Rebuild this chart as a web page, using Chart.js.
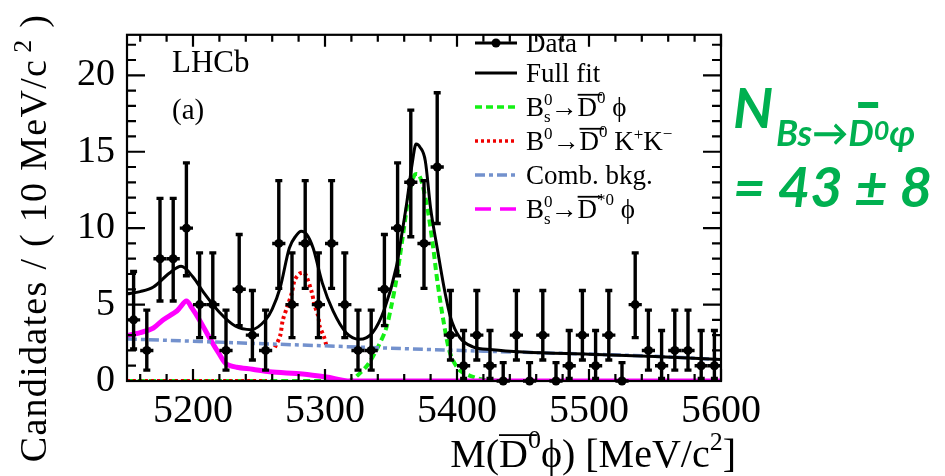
<!DOCTYPE html>
<html>
<head>
<meta charset="utf-8">
<script src="https://cdn.jsdelivr.net/npm/chart.js@4"></script>
<style>
  html, body { margin: 0; padding: 0; background: #fff; }
  #wrap { width: 945px; height: 476px; }
</style>
</head>
<body>
<div id="wrap"><canvas id="myChart" width="945" height="476"></canvas></div>
<script>
'use strict'
// data: bin centres (10 MeV bins) and candidate counts
const binCenters = [5155, 5165, 5175, 5185, 5195, 5205, 5215, 5225, 5235, 5245,
  5255, 5265, 5275, 5285, 5295, 5305, 5315, 5325, 5335, 5345,
  5355, 5365, 5375, 5385, 5395, 5405, 5415, 5425, 5435, 5445,
  5455, 5465, 5475, 5485, 5495, 5505, 5515, 5525, 5535, 5545,
  5555, 5565, 5575, 5585, 5595]
const counts = [4, 2, 8, 8, 10, 5, 5, 2, 6, 3,
  2, 9, 5, 9, 5, 9, 5, 2, 2, 6,
  10, 13, 9, 14, 3, 1, 3, 1, 0, 3,
  0, 3, 0, 1, 3, 1, 3, 0, 5, 2,
  1, 2, 2, 1, 1]
const binHalfWidth = 5

// asymmetric (Poisson) error bars, looked up by count
const errCounts = [0, 1, 2, 3, 4, 5, 6, 8, 9, 10, 13, 14]
const errDown = [0, 0.83, 1.29, 1.63, 1.91, 2.16, 2.38, 2.77, 2.94, 3.11, 3.56, 3.7]
const errUp = [1.2, 2.3, 2.64, 2.92, 3.16, 3.38, 3.58, 3.95, 4.11, 4.27, 4.72, 4.86]

// fit curves
const fitX = [5150, 5160, 5170, 5182, 5191, 5200, 5208, 5220, 5232, 5244, 5255, 5260, 5266, 5273, 5278, 5282, 5286, 5291, 5298, 5306, 5316, 5326, 5336, 5345, 5354, 5358, 5362, 5366, 5369, 5372, 5376, 5380, 5385, 5390, 5395, 5402, 5412, 5427, 5450, 5500, 5550, 5600]
const fitY = [5.7, 5.85, 6.15, 7.05, 7.5, 6.8, 5.8, 4.5, 3.6, 3.36, 4.0, 4.7, 6.1, 8.7, 9.5, 9.8, 9.6, 8.7, 6.4, 4.6, 3.16, 2.73, 3.16, 4.7, 7.45, 9.5, 11.7, 14.2, 15.5, 15.3, 14.4, 11.3, 8.7, 6.2, 4.2, 2.85, 2.24, 2.05, 1.9, 1.75, 1.6, 1.4]

const sigX = [5150, 5318, 5325, 5333, 5340, 5346, 5350, 5354, 5359, 5364, 5368, 5371, 5374, 5378, 5382, 5385, 5390, 5395, 5402, 5412, 5422, 5440, 5600]
const sigY = [0, 0, 0.4, 1.13, 2.2, 3.36, 4.8, 6.6, 9.5, 12.4, 13.5, 13.5, 12.8, 11.1, 8.7, 6.6, 3.8, 1.75, 0.7, 0.27, 0.05, 0, 0]

const kkX = [5150, 5256, null, 5262, 5266, 5268, 5272, 5275, 5277, 5281, 5284, 5286, 5290, 5292, 5295, 5296, 5299, 5301, null, 5308, 5600]
const kkY = [0, 0, null, 2.2, 2.95, 3.97, 5.0, 5.8, 6.6, 7.04, 7.08, 6.84, 5.8, 5.0, 4.2, 3.57, 2.95, 2.34, null, 0, 0]

const combX = [5150, 5260, 5390, 5450, 5540, 5600]
const combY = [2.75, 2.42, 2.03, 1.88, 1.65, 1.4]

const dstX = [5150, 5160, 5170, 5177, 5188, 5195, 5199, 5205, 5213, 5220, 5225, 5233, 5245, 5258, 5283, 5301, 5319, 5600]
const dstY = [2.97, 3.16, 3.47, 3.98, 4.6, 5.24, 4.8, 3.98, 2.75, 1.75, 1.13, 0.9, 0.77, 0.6, 0.46, 0.26, 0, 0]

// axes
const xTickValues = [5200, 5300, 5400, 5500, 5600]
const yTickValues = [0, 5, 10, 15, 20]
const xRange = [5150, 5600]
const yRange = [0, 22.65]

const serif = "'Liberation Serif', 'DejaVu Serif', serif"
const green = 'rgb(0, 176, 80)'

function toXY(xs, ys) {
  return xs.map((x, i) => (x === null ? { x: NaN, y: null } : { x: x, y: ys[i] }))
}

function lookupErr(n, table) {
  return table[errCounts.indexOf(n)]
}

// draws a list of text pieces one after the other; returns the width
function rich(ctx, x, y, parts, draw) {
  let cx = x
  for (const p of parts) {
    ctx.font = (p.style || '') + ' ' + p.size + 'px ' + (p.family || serif)
    const w = ctx.measureText(p.t).width
    if (draw) {
      ctx.fillText(p.t, cx + (p.dx || 0), y + (p.dy || 0))
      if (p.over) {
        ctx.fillRect(cx + (p.dx || 0), y - p.size * 0.82, w + p.over, 1.8)
      }
      if (p.bar) {
        ctx.fillRect(cx + p.bar[0], y + p.bar[1], p.bar[2], p.bar[3])
      }
    }
    if (!p.stay) cx += w + (p.dx || 0)
  }
  return cx - x
}

const lg = 27
const lgSmall = 17
function decay(sup, tail) {
  const base = [{ t: 'B', size: lg }]
  if (sup === 's') {
    base.push({ t: '0', size: lgSmall, dy: -11, stay: true })
    base.push({ t: 's', size: lgSmall, dy: 6 })
  } else {
    base.push({ t: '0', size: lgSmall, dy: -11 })
  }
  base.push({ t: '\u2192', size: lg })
  base.push({ t: 'D', size: lg, over: 5 })
  return base.concat(tail)
}

const legendItems = [
  { kind: 'data', parts: [{ t: 'Data', size: lg }] },
  { kind: 'fit', parts: [{ t: 'Full fit', size: lg }] },
  { kind: 'sig', parts: decay('s', [{ t: '0', size: lgSmall, dy: -13 }, { t: ' \u03d5', size: lg }]) },
  { kind: 'kk', parts: decay('0', [{ t: '0', size: lgSmall, dy: -13 }, { t: ' K', size: lg }, { t: '+', size: lgSmall, dy: -10 }, { t: 'K', size: lg }, { t: '\u2212', size: lgSmall, dy: -11 }]) },
  { kind: 'comb', parts: [{ t: 'Comb. bkg.', size: lg }] },
  { kind: 'dst', parts: decay('s', [{ t: '*0', size: lgSmall, dy: -13 }, { t: ' \u03d5', size: lg }]) }
]

const lineStyles = {
  fit: { color: '#000', width: 3, dash: [] },
  sig: { color: 'rgb(20, 240, 20)', width: 4, dash: [7, 4] },
  kk: { color: 'rgb(240, 0, 0)', width: 4, dash: [3, 3] },
  comb: { color: 'rgb(115, 145, 205)', width: 3.5, dash: [10, 4, 4, 4] },
  dst: { color: 'rgb(255, 0, 255)', width: 5, dash: [] }
}

const lhcbPlugin = {
  id: 'lhcbPlugin',
  beforeDatasetDraw(chart, args) {
    if (args.index !== 0) return
    const ctx = chart.ctx
    const xs = chart.scales.x
    const ys = chart.scales.y
    ctx.save()
    ctx.strokeStyle = '#000'
    ctx.lineWidth = 3.4
    binCenters.forEach((c, i) => {
      const n = counts[i]
      const px = xs.getPixelForValue(c)
      const py = ys.getPixelForValue(n)
      const lo = ys.getPixelForValue(n - lookupErr(n, errDown))
      const hi = ys.getPixelForValue(n + lookupErr(n, errUp))
      ctx.beginPath()
      ctx.moveTo(px, lo)
      ctx.lineTo(px, hi)
      ctx.moveTo(xs.getPixelForValue(c - binHalfWidth), py)
      ctx.lineTo(xs.getPixelForValue(c + binHalfWidth), py)
      ctx.moveTo(px - 3.5, hi)
      ctx.lineTo(px + 3.5, hi)
      if (n > 0) {
        ctx.moveTo(px - 3.5, lo)
        ctx.lineTo(px + 3.5, lo)
      }
      ctx.stroke()
    })
    ctx.restore()
  },
  afterDatasetsDraw(chart) {
    const ctx = chart.ctx
    const a = chart.chartArea
    const xs = chart.scales.x
    const ys = chart.scales.y
    ctx.save()
    ctx.strokeStyle = '#000'
    ctx.lineWidth = 2.2
    ctx.strokeRect(a.left, a.top, a.right - a.left, a.bottom - a.top)
    ctx.beginPath()
    for (let v = xRange[0] + 10; v <= xRange[1]; v += 20) {
      const px = xs.getPixelForValue(v)
      const len = v % 100 === 0 ? 12 : 7
      ctx.moveTo(px, a.bottom)
      ctx.lineTo(px, a.bottom - len)
      ctx.moveTo(px, a.top)
      ctx.lineTo(px, a.top + len)
    }
    for (let v = 1; v <= yRange[1]; v += 1) {
      const py = ys.getPixelForValue(v)
      const len = v % 5 === 0 ? 18 : 9
      ctx.moveTo(a.left, py)
      ctx.lineTo(a.left + len, py)
      ctx.moveTo(a.right, py)
      ctx.lineTo(a.right - len, py)
    }
    ctx.stroke()
    ctx.restore()
  },
  afterDraw(chart) {
    const ctx = chart.ctx
    ctx.save()
    ctx.fillStyle = '#000'
    ctx.textBaseline = 'alphabetic'

    // LHCb label
    rich(ctx, 172, 72, [{ t: 'LHCb', size: 31 }], true)
    rich(ctx, 172, 119, [{ t: '(a)', size: 29 }], true)

    // legend
    const lx0 = 475
    const lx1 = 517
    const rowY = [43, 73, 107, 141, 175, 209]
    legendItems.forEach((item, i) => {
      const y = rowY[i]
      ctx.save()
      if (item.kind === 'data') {
        ctx.strokeStyle = '#000'
        ctx.lineWidth = 3
        ctx.beginPath()
        ctx.moveTo(lx0, y)
        ctx.lineTo(lx1, y)
        ctx.stroke()
        ctx.beginPath()
        ctx.arc((lx0 + lx1) / 2, y, 4.5, 0, Math.PI * 2)
        ctx.fill()
      } else {
        const st = lineStyles[item.kind]
        ctx.strokeStyle = st.color
        ctx.lineWidth = item.kind === 'dst' ? 3.5 : Math.min(st.width, 3.5)
        ctx.setLineDash(item.kind === 'dst' ? [16, 9] : st.dash)
        ctx.beginPath()
        ctx.moveTo(lx0, y)
        ctx.lineTo(lx1, y)
        ctx.stroke()
      }
      ctx.restore()
      ctx.fillStyle = '#000'
      rich(ctx, 526, y + 9, item.parts, true)
    })

    // y axis title
    const yParts = [{ t: 'Candidates / ( 10 MeV/c', size: 38 }, { t: '2', size: 26, dy: -15, dx: 6 }, { t: ' )', size: 38 }]
    ctx.save()
    ctx.translate(46, 238)
    ctx.rotate(-Math.PI / 2)
    ctx.letterSpacing = '1.3px'
    const yw = rich(ctx, 0, 0, yParts, false)
    rich(ctx, -yw / 2, 0, yParts, true)
    ctx.restore()

    // x axis title
    const xParts = [{ t: 'M(', size: 40 }, { t: 'D', size: 40, over: 9 }, { t: '0', size: 26, dy: -19 },
      { t: '\u03d5) [MeV/c', size: 40 }, { t: '2', size: 26, dy: -17 }, { t: ']', size: 40 }]
    const xw = rich(ctx, 0, 0, xParts, false)
    rich(ctx, 736 - xw, 467, xParts, true)

    // yield annotation
    ctx.fillStyle = green
    const sans = "Lato, 'Noto Sans', sans-serif"
    rich(ctx, 733, 128, [{ t: 'N', size: 56, style: 'italic bold', family: sans }], true)
    rich(ctx, 776, 146, [
      { t: 'Bs', size: 36, style: 'italic bold', family: sans },
      { t: '\u2192', size: 36, style: 'bold', family: sans },
      { t: 'D', size: 36, style: 'italic bold', family: sans, bar: [10, -44, 20, 6] },
      { t: '0', size: 27, style: 'italic bold', family: sans, dy: -6 },
      { t: '\u03c6', size: 36, style: 'italic bold', family: sans }
    ], true)
    rich(ctx, 733, 207, [{ t: '= 43 \u00b1 8', size: 56, style: 'italic bold', family: sans }], true)
    ctx.restore()
  }
}

function curve(xs, ys, kind) {
  const st = lineStyles[kind]
  return {
    data: toXY(xs, ys),
    showLine: true,
    borderColor: st.color,
    borderWidth: st.width,
    borderDash: st.dash,
    pointRadius: 0,
    tension: 0.3,
    spanGaps: false,
    order: 2
  }
}

const ctx = document.getElementById('myChart').getContext('2d')
const myChart = new Chart(ctx, {
  type: 'scatter',
  data: {
    datasets: [
      {
        data: toXY(binCenters, counts),
        pointRadius: 4.5,
        pointBackgroundColor: '#000',
        pointBorderColor: '#000',
        pointBorderWidth: 0,
        clip: false,
        order: 0
      },
      curve(combX, combY, 'comb'),
      curve(dstX, dstY, 'dst'),
      curve(kkX, kkY, 'kk'),
      curve(sigX, sigY, 'sig'),
      Object.assign(curve(fitX, fitY, 'fit'), { order: 1, cubicInterpolationMode: 'monotone' })
    ]
  },
  options: {
    responsive: false,
    animation: false,
    devicePixelRatio: 1,
    layout: { padding: { top: 13, right: 224, left: 0, bottom: 0 } },
    plugins: { legend: { display: false }, tooltip: { enabled: false } },
    scales: {
      x: {
        type: 'linear',
        min: xRange[0],
        max: xRange[1],
        afterBuildTicks: (s) => { s.ticks = xTickValues.map((v) => ({ value: v })) },
        afterFit: (s) => { s.height = 95 },
        grid: { display: false, drawTicks: false },
        border: { display: false },
        ticks: {
          color: '#000',
          font: { family: serif, size: 40 },
          padding: 6,
          maxRotation: 0,
          autoSkip: false,
          callback: (v) => String(v)
        }
      },
      y: {
        type: 'linear',
        min: yRange[0],
        max: yRange[1],
        afterBuildTicks: (s) => { s.ticks = yTickValues.map((v) => ({ value: v })) },
        afterFit: (s) => { s.width = 127 },
        grid: { display: false, drawTicks: false },
        border: { display: false },
        ticks: {
          color: '#000',
          font: { family: serif, size: 38 },
          padding: 12,
          autoSkip: false,
          callback: (v) => String(v)
        }
      }
    }
  },
  plugins: [lhcbPlugin]
})
</script>
</body>
</html>
